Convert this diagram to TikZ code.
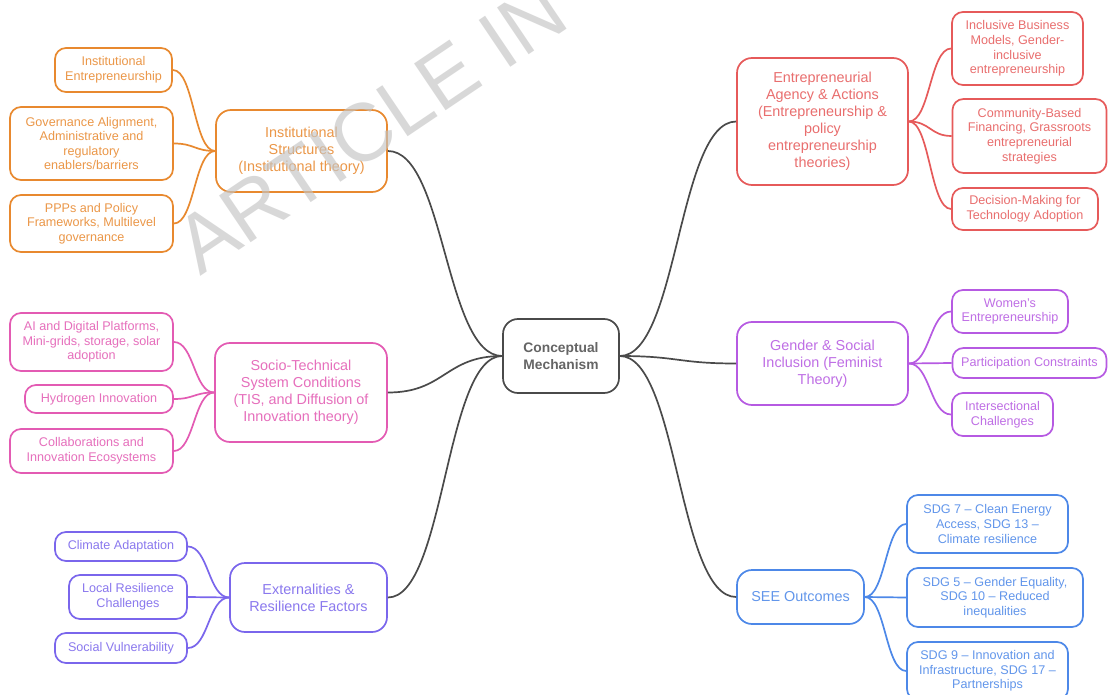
\documentclass[tikz,border=0pt]{standalone}
\usepackage{fontspec}
\setmainfont{Liberation Sans}
\usetikzlibrary{calc}
\definecolor{cOr}{HTML}{E8892F}
\definecolor{cPk}{HTML}{E35BB3}
\definecolor{cPu}{HTML}{7A66EC}
\definecolor{cRd}{HTML}{E65A5A}
\definecolor{cVi}{HTML}{B65AE2}
\definecolor{cBl}{HTML}{4D88E8}
\definecolor{cDk}{HTML}{4A4A4A}
\definecolor{cWm}{HTML}{C4C4C4}
\newcommand\mconn[3]{\draw[conn=#1] let \p1=(#2.east), \p2=(#3.west), \n1={0.5*(\x2-\x1)} in (\p1) .. controls +(\n1,0) and +(-\n1,0) .. (\p2);}
\begin{document}
\begin{tikzpicture}[x=1pt,y=-1pt,
  sz/.style 2 args={minimum width=#1pt, minimum height=#2pt},
  box/.style={draw=#1, text=#1!88!white, rounded corners=11pt, line width=1.7pt, align=center, inner sep=2pt, font=\fontsize{12.6}{14.6}\selectfont},
  big/.style={box=#1, rounded corners=15pt, font=\fontsize{14.4}{17}\selectfont},
  conn/.style={draw=#1, line width=1.7pt}]
\useasboundingbox (0,0) rectangle (1108,695);
\fill[white] (0,0) rectangle (1108,695);

% centre
\node[draw=cDk, text=cDk!85!white, line width=1.7pt, rounded corners=15pt, align=center, font=\bfseries\fontsize{13.8}{17}\selectfont, sz={116}{74}] (cm) at (561,356) {Conceptual\\Mechanism};

% orange branch
\node[big=cOr, sz={171}{82}] (is) at (301.5,151) {Institutional\\Structures\\(Institutional theory)};
\node[box=cOr, sz={117}{44}] (ie) at (113.5,70) {Institutional\\Entrepreneurship};
\node[box=cOr, sz={163}{73}] (ga) at (91.5,143.5) {Governance Alignment,\\Administrative and\\regulatory\\enablers/barriers};
\node[box=cOr, sz={163}{57}] (pp) at (91.5,223.5) {PPPs and Policy\\Frameworks, Multilevel\\governance};

% pink branch
\node[big=cPk, sz={172}{99}] (st) at (301,392.5) {Socio-Technical\\System Conditions\\(TIS, and Diffusion of\\Innovation theory)};
\node[box=cPk, sz={163}{58}] (ai) at (91.5,342) {AI and Digital Platforms,\\Mini-grids, storage, solar\\adoption};
\node[box=cPk, sz={148}{28}] (hy) at (99,399) {Hydrogen Innovation};
\node[box=cPk, sz={163}{44}] (co) at (91.5,451) {Collaborations and\\Innovation Ecosystems};

% purple branch
\node[big=cPu, sz={157}{69}] (ex) at (308.5,597.5) {Externalities \&\\Resilience Factors};
\node[box=cPu, sz={132}{29}] (ca) at (121,546.5) {Climate Adaptation};
\node[box=cPu, sz={118}{44}] (lr) at (128,597) {Local Resilience\\Challenges};
\node[box=cPu, sz={132}{30}] (sv) at (121,648) {Social Vulnerability};

% red branch
\node[big=cRd, sz={171}{127}] (ea) at (822.5,121.5) {Entrepreneurial\\Agency \& Actions\\(Entrepreneurship \&\\policy\\entrepreneurship\\theories)};
\node[box=cRd, sz={131}{73}] (ib) at (1017.5,48.5) {Inclusive Business\\Models, Gender-\\inclusive\\entrepreneurship};
\node[box=cRd, sz={154}{74}] (cb) at (1029.5,136) {Community-Based\\Financing, Grassroots\\entrepreneurial\\strategies};
\node[box=cRd, sz={146}{42}] (dm) at (1025,209) {Decision-Making for\\Technology Adoption};

% violet branch
\node[big=cVi, sz={171}{83}] (gs) at (822.5,363.5) {Gender \& Social\\Inclusion (Feminist\\Theory)};
\node[box=cVi, sz={116}{43}] (we) at (1010,311.5) {Women’s\\Entrepreneurship};
\node[box=cVi, sz={154}{30}] (pc) at (1029.5,363) {Participation Constraints};
\node[box=cVi, sz={101}{43}] (ic) at (1002.5,414.5) {Intersectional\\Challenges};

% blue branch
\node[big=cBl, sz={127}{54}] (se) at (800.5,597) {SEE Outcomes};
\node[box=cBl, sz={161}{58}] (s7) at (987.5,524) {SDG 7 – Clean Energy\\Access, SDG 13 –\\Climate resilience};
\node[box=cBl, sz={176}{59}] (s5) at (995,597.5) {SDG 5 – Gender Equality,\\SDG 10 – Reduced\\inequalities};
\node[box=cBl, sz={161}{58}] (s9) at (987.5,671) {SDG 9 – Innovation and\\Infrastructure, SDG 17 –\\Partnerships};

% connectors
\mconn{cDk}{is}{cm}
\mconn{cDk}{st}{cm}
\mconn{cDk}{ex}{cm}
\mconn{cDk}{cm}{ea}
\mconn{cDk}{cm}{gs}
\mconn{cDk}{cm}{se}
\mconn{cOr}{ie}{is}
\mconn{cOr}{ga}{is}
\mconn{cOr}{pp}{is}
\mconn{cPk}{ai}{st}
\mconn{cPk}{hy}{st}
\mconn{cPk}{co}{st}
\mconn{cPu}{ca}{ex}
\mconn{cPu}{lr}{ex}
\mconn{cPu}{sv}{ex}
\mconn{cRd}{ea}{ib}
\mconn{cRd}{ea}{cb}
\mconn{cRd}{ea}{dm}
\mconn{cVi}{gs}{we}
\mconn{cVi}{gs}{pc}
\mconn{cVi}{gs}{ic}
\mconn{cBl}{se}{s7}
\mconn{cBl}{se}{s5}
\mconn{cBl}{se}{s9}

% watermark
\begin{scope}
\clip (0,0) rectangle (1108,695);
\node[rotate=34, anchor=base west, inner sep=0pt, text=cWm, opacity=0.65, font=\fontsize{82}{90}\selectfont] (wm) at (200,277) {ARTICLE IN};
\end{scope}
\end{tikzpicture}
\end{document}
